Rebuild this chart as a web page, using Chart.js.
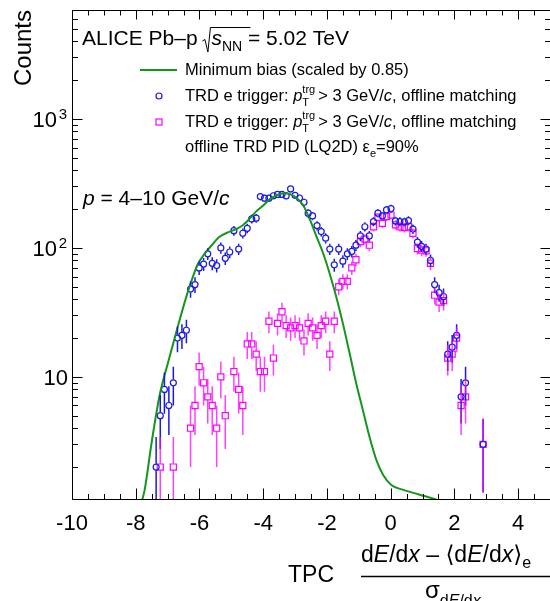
<!DOCTYPE html>
<html>
<head>
<meta charset="utf-8">
<script src="https://cdn.jsdelivr.net/npm/chart.js@4"></script>
<style>
body { margin: 0; background: #fff; }
</style>
</head>
<body>
<canvas id="dedxChart" width="550" height="601"></canvas>
<script>
// TPC n-sigma bin centres
const binCenters = [-7.36, -7.23, -7.10, -6.96, -6.82, -6.69, -6.55, -6.41, -6.28, -6.14,
    -6.01, -5.87, -5.74, -5.60, -5.46, -5.33, -5.19, -5.05, -4.92, -4.77,
    -4.64, -4.50, -4.36, -4.22, -4.09, -3.96, -3.82, -3.68, -3.55, -3.41,
    -3.28, -3.14, -3.00, -2.86, -2.72, -2.59, -2.45, -2.31, -2.18, -2.04,
    -1.91, -1.77, -1.63, -1.50, -1.36, -1.22, -1.09, -0.95, -0.81, -0.67,
    -0.54, -0.40, -0.26, -0.13, 0.01, 0.15, 0.29, 0.43, 0.56, 0.70,
    0.84, 0.97, 1.11, 1.25, 1.38, 1.52, 1.66, 1.79, 1.93, 2.07,
    2.21, 2.35, 2.90];

// TRD e trigger, offline matching
const trdCounts = [2, 5, 8, 6, 9, 20, 21, 23, 48, 52,
    70, 75, 90, 76, 73, 100, 83, 93, 136, 98,
    130, 142, 168, 170, 250, 243, 243, 254, 260, 260,
    253, 287, 256, 244, 226, 186, 177, 149, 134, 119,
    98, 74, 98, 79, 90, 94, 105, 124, 146, 124,
    160, 186, 177, 197, 202, 162, 160, 159, 163, 140,
    111, 103, 98, 80, 52, 45, 42, 15, 17, 21,
    7, 9, 3];

// TRD e trigger + offline TRD PID (LQ2D) 90%
const trdPidCounts = [null, 2, null, null, 2, null, null, null, 4, 6,
    12, 9, 7, 6, 4, 10, 5, null, 11, 8,
    6, 18, 18, 15, 11, 11, 27, 14, 26, 32,
    25, 24, 25, 24, 19, 26, 24, 21, 25, 27,
    15, 27, 50, 55, 55, 70, 81, 112, 117, 105,
    146, 173, 155, 175, 180, 151, 146, 144, 146, 130,
    99, 96, 95, 76, 43, 38, 39, 14, 15, 20,
    6, 7, 3];

// minimum bias (scaled by 0.85), smooth curve
const mbX = [-7.85, -7.72, -7.51, -7.25, -6.99, -6.68, -6.36, -6.05, -5.84, -5.63,
    -5.37, -5.11, -4.85, -4.64, -4.43, -4.22, -4.01, -3.80, -3.59, -3.38,
    -3.17, -2.96, -2.75, -2.54, -2.33, -2.12, -1.92, -1.71, -1.50, -1.29,
    -1.08, -0.87, -0.66, -0.45, -0.24, 0.02, 0.39, 0.91, 1.49, 1.60];
const mbCounts = [1.0, 1.33, 3.0, 7.2, 12.8, 24.6, 46, 75, 90, 104,
    122, 132, 140, 150, 168, 192, 212, 238, 255, 265,
    262, 245, 215, 167, 123, 91, 64, 42, 26, 15.3,
    8.9, 5.5, 3.4, 2.27, 1.74, 1.45, 1.33, 1.22, 1.10, 1.06];

const xTickLabels = [-10, -8, -6, -4, -2, 0, 2, 4];
const yTickLabels = [10, 100, 1000];

const FONT = '"Liberation Sans", Arial, "DejaVu Sans", sans-serif';
const BLUE = '#1a1ae6';
const MAGENTA = '#ff00ff';
const GREEN = '#13961a';

function toPoints(xs, ys) {
    const pts = [];
    for (let i = 0; i < xs.length; i++) {
        if (ys[i] !== null) pts.push({ x: xs[i], y: ys[i] });
    }
    return pts;
}

// writes a list of text runs one after the other, returns end x
function drawRuns(ctx, x, y, runs) {
    runs.forEach(function(r) {
        ctx.font = (r.italic ? 'italic ' : '') + r.size + 'px ' + FONT;
        ctx.fillText(r.t, x, y + (r.dy || 0));
        if (!r.stay) x += ctx.measureText(r.t).width;
    });
    return x;
}

function drawErrors(chart, dsIndex, color, gap) {
    const meta = chart.getDatasetMeta(dsIndex);
    const data = chart.data.datasets[dsIndex].data;
    const yScale = chart.scales.y;
    const area = chart.chartArea;
    const ctx = chart.ctx;
    ctx.save();
    ctx.beginPath();
    ctx.rect(area.left, area.top, area.right - area.left, area.bottom - area.top);
    ctx.clip();
    ctx.strokeStyle = color;
    ctx.lineWidth = 1.5;
    meta.data.forEach(function(pt, i) {
        const v = data[i].y;
        const e = Math.sqrt(v);
        const yHi = yScale.getPixelForValue(v + e);
        const yLo = (v - e) > 0 ? yScale.getPixelForValue(v - e) : area.bottom + 5;
        ctx.beginPath();
        ctx.moveTo(pt.x, yHi);
        ctx.lineTo(pt.x, pt.y - gap);
        ctx.moveTo(pt.x, pt.y + gap);
        ctx.lineTo(pt.x, yLo);
        ctx.stroke();
    });
    ctx.restore();
}

const rootStyle = {
    id: 'rootStyle',
    afterDatasetsDraw(chart) {
        drawErrors(chart, 1, BLUE, 3.2);
        drawErrors(chart, 2, 'rgba(255,0,255,0.75)', 3.2);
    },
    afterDraw(chart) {
        const ctx = chart.ctx;
        const a = chart.chartArea;
        const xs = chart.scales.x;
        const ys = chart.scales.y;
        // right edge of the frame sits just outside the canvas, like the original
        const L = a.left + 0.5, R = a.right + 0.5, T = a.top + 0.5, B = a.bottom - 0.5;
        ctx.save();
        ctx.strokeStyle = '#000';
        ctx.fillStyle = '#000';
        ctx.lineWidth = 1;

        // frame
        ctx.beginPath();
        ctx.moveTo(L, T); ctx.lineTo(R, T); ctx.lineTo(R, B); ctx.lineTo(L, B); ctx.closePath();
        ctx.stroke();

        // x ticks, bottom and top
        ctx.beginPath();
        for (let v = -10; v <= 5; v += 0.5) {
            const px = Math.round(xs.getPixelForValue(v)) + 0.5;
            const major = (v % 2 === 0);
            ctx.moveTo(px, B); ctx.lineTo(px, B - (major ? 11 : 5.5));
            ctx.moveTo(px, T); ctx.lineTo(px, T + (major ? 9 : 5));
        }
        // y ticks, left and right
        [1, 10, 100, 1000].forEach(function(d) {
            for (let m = 1; m <= 9; m++) {
                const v = m * d;
                if (v < ys.min || v > ys.max) continue;
                const py = Math.round(ys.getPixelForValue(v)) + 0.5;
                const len = m === 1 ? 10 : 5.5;
                ctx.moveTo(L, py); ctx.lineTo(L + len, py);
                ctx.moveTo(R, py); ctx.lineTo(R - len, py);
            }
        });
        ctx.stroke();

        // x tick labels
        ctx.font = '22px ' + FONT;
        ctx.textAlign = 'center';
        ctx.textBaseline = 'alphabetic';
        xTickLabels.forEach(function(v) {
            ctx.fillText(String(v), xs.getPixelForValue(v), 530);
        });

        // y tick labels
        ctx.textAlign = 'right';
        yTickLabels.forEach(function(v) {
            const py = ys.getPixelForValue(v);
            const exp = Math.round(Math.log10(v));
            if (exp === 1) {
                ctx.font = '22px ' + FONT;
                ctx.fillText('10', 68, py + 8);
            } else {
                ctx.font = '15px ' + FONT;
                ctx.fillText(String(exp), 67, py);
                ctx.font = '22px ' + FONT;
                ctx.fillText('10', 57, py + 8);
            }
        });

        // axis titles
        ctx.save();
        ctx.translate(31, 10);
        ctx.rotate(-Math.PI / 2);
        ctx.textAlign = 'right';
        ctx.font = '24px ' + FONT;
        ctx.fillText('Counts', 0, 0);
        ctx.restore();

        ctx.textAlign = 'left';
        drawRuns(ctx, 288, 582, [{ t: 'TPC', size: 23 }]);
        const numEnd = drawRuns(ctx, 361, 562, [
            { t: 'd', size: 23 }, { t: 'E', size: 23, italic: true },
            { t: '/d', size: 23 }, { t: 'x', size: 23, italic: true },
            { t: ' \u2013 \u27e8d', size: 23 }, { t: 'E', size: 23, italic: true },
            { t: '/d', size: 23 }, { t: 'x', size: 23, italic: true },
            { t: '\u27e9', size: 23 }, { t: 'e', size: 16, dy: 6 }
        ]);
        ctx.lineWidth = 1.5;
        ctx.beginPath();
        ctx.moveTo(361, 576.5); ctx.lineTo(Math.max(numEnd, 550), 576.5);
        ctx.stroke();
        drawRuns(ctx, 425, 598, [
            { t: '\u03c3', size: 24 },
            { t: 'd', size: 16, dy: 8 }, { t: 'E', size: 16, italic: true, dy: 8 },
            { t: '/d', size: 16, dy: 8 }, { t: 'x', size: 16, italic: true, dy: 8 }
        ]);

        // header text
        let x = drawRuns(ctx, 82, 45, [{ t: 'ALICE Pb\u2013p ', size: 21 }]);
        ctx.lineWidth = 1;
        ctx.beginPath();
        ctx.moveTo(x - 1, 41); ctx.lineTo(x + 1.5, 39.5);
        ctx.lineTo(x + 4.5, 52); ctx.lineTo(x + 7, 27.5); ctx.lineTo(x + 47, 27.5);
        ctx.stroke();
        drawRuns(ctx, x + 8, 45, [
            { t: 's', size: 21, italic: true },
            { t: 'NN', size: 14, dy: 6 },
            { t: ' = 5.02 TeV', size: 21 }
        ]);
        drawRuns(ctx, 83, 205, [
            { t: 'p', size: 21, italic: true },
            { t: ' = 4\u201310 GeV/', size: 21 },
            { t: 'c', size: 21, italic: true }
        ]);

        // legend
        ctx.strokeStyle = GREEN;
        ctx.lineWidth = 2;
        ctx.beginPath();
        ctx.moveTo(140, 70); ctx.lineTo(177, 70);
        ctx.stroke();
        ctx.strokeStyle = BLUE;
        ctx.lineWidth = 1.2;
        ctx.beginPath();
        ctx.arc(159, 96, 3, 0, Math.PI * 2);
        ctx.stroke();
        ctx.strokeStyle = MAGENTA;
        ctx.strokeRect(156, 119, 6, 6);

        ctx.fillStyle = '#000';
        const fs = 16.5;
        drawRuns(ctx, 185, 75, [{ t: 'Minimum bias (scaled by 0.85)', size: fs }]);
        [100.7, 126.7].forEach(function(by) {
            drawRuns(ctx, 185, by, [
                { t: 'TRD e trigger: ', size: fs },
                { t: 'p', size: fs, italic: true },
                { t: 'trg', size: 11, dy: -8, stay: true },
                { t: 'T', size: 11, dy: 5 },
                { t: '  > 3 GeV/', size: fs },
                { t: 'c', size: fs, italic: true },
                { t: ', offline matching', size: fs }
            ]);
        });
        drawRuns(ctx, 185, 151.7, [
            { t: 'offline TRD PID (LQ2D) \u03b5', size: fs },
            { t: 'e', size: 11, dy: 5 },
            { t: '=90%', size: fs }
        ]);
        ctx.restore();
    }
};

const chart = new Chart(document.getElementById('dedxChart').getContext('2d'), {
    type: 'scatter',
    data: {
        datasets: [
            {
                type: 'line',
                label: 'Minimum bias (scaled by 0.85)',
                data: toPoints(mbX, mbCounts),
                borderColor: GREEN,
                borderWidth: 2,
                pointRadius: 0,
                cubicInterpolationMode: 'monotone',
                fill: false
            },
            {
                label: 'TRD e trigger',
                data: toPoints(binCenters, trdCounts),
                pointStyle: 'circle',
                pointRadius: 3,
                borderColor: BLUE,
                backgroundColor: 'rgba(0,0,0,0)',
                borderWidth: 1.2
            },
            {
                label: 'TRD e trigger + TRD PID',
                data: toPoints(binCenters, trdPidCounts),
                pointStyle: 'rect',
                pointRadius: 4.3,
                borderColor: MAGENTA,
                backgroundColor: 'rgba(0,0,0,0)',
                borderWidth: 1.2
            }
        ]
    },
    options: {
        responsive: false,
        animation: false,
        devicePixelRatio: 1,
        layout: { autoPadding: false, padding: { left: 72, right: 0, top: 10, bottom: 101 } },
        scales: {
            x: { type: 'linear', min: -10, max: 5, display: false },
            y: { type: 'logarithmic', min: 1.11, max: 7000, display: false }
        },
        plugins: {
            legend: { display: false },
            tooltip: { enabled: false }
        }
    },
    plugins: [rootStyle]
});
</script>
</body>
</html>
